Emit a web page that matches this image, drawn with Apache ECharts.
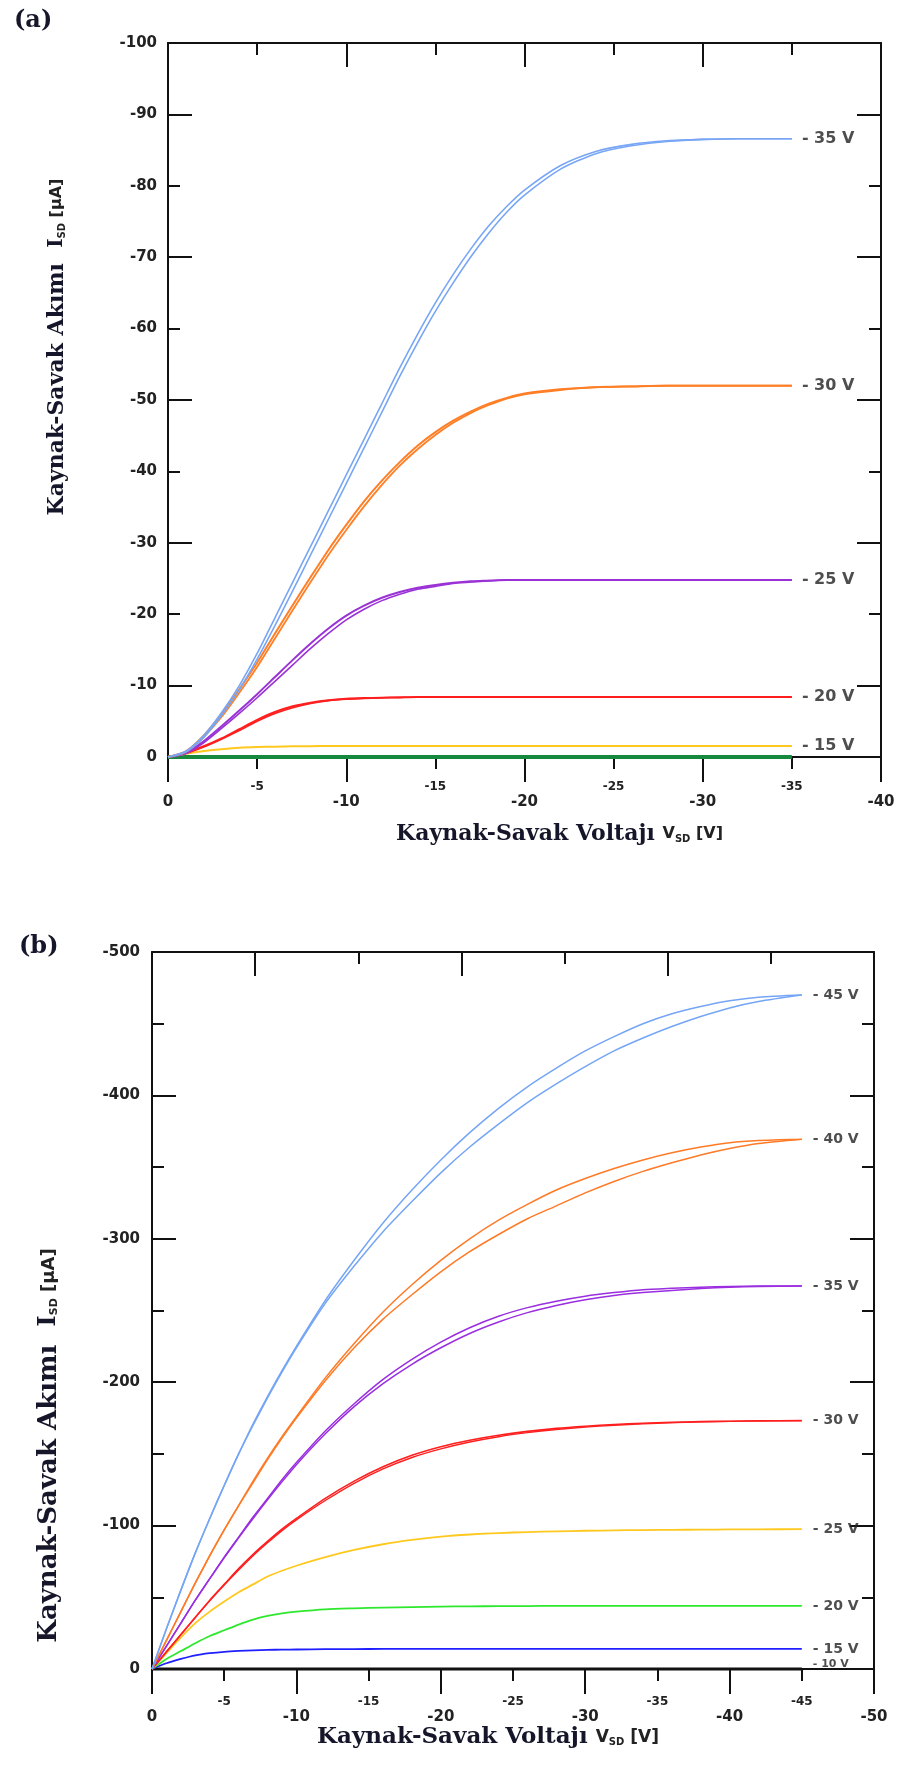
<!DOCTYPE html>
<html>
<head>
<meta charset="utf-8">
<script src="https://cdn.jsdelivr.net/npm/echarts@6/dist/echarts.min.js"></script>
<style>
  html, body { margin: 0; padding: 0; background: #ffffff; }
  #chart { width: 898px; height: 1766px; }
</style>
</head>
<body>
<div id="chart"></div>
<script>
// ---------- Panel (a): output curves, V_SD sweep 0 .. -35 V ----------
const vA = [0,-1,-2,-3,-4,-5,-6,-7,-8,-9,-10,-11,-12,-13,-14,-15,-16,-17,-18,-19,-20,-22,-24,-26,-28,-30,-32,-35];
const iA35f = [0,-0.8,-3,-6.2,-10,-14.5,-19.5,-24.5,-29.5,-34.5,-39.5,-44.5,-49.5,-54.5,-59.2,-63.6,-67.6,-71.2,-74.4,-77.1,-79.4,-82.8,-84.8,-85.8,-86.3,-86.5,-86.6,-86.6];
const iA35r = [0,-0.7,-2.7,-5.8,-9.4,-13.7,-18.4,-23.3,-28.3,-33.3,-38.3,-43.3,-48.3,-53.3,-58,-62.4,-66.4,-70.1,-73.4,-76.3,-78.7,-82.3,-84.5,-85.6,-86.2,-86.5,-86.6,-86.6];
const iA30f = [0,-0.8,-3,-6,-9.5,-13.2,-17.3,-21.3,-25.2,-29,-32.5,-35.8,-38.7,-41.3,-43.6,-45.5,-47.1,-48.4,-49.5,-50.3,-50.9,-51.5,-51.8,-51.9,-52,-52,-52,-52];
const iA30r = [0,-0.7,-2.8,-5.6,-9,-12.6,-16.6,-20.6,-24.5,-28.3,-31.8,-35.1,-38.1,-40.8,-43.1,-45.1,-46.8,-48.2,-49.3,-50.2,-50.8,-51.4,-51.8,-51.9,-52,-52,-52,-52];
const iA25f = [0,-0.6,-2.2,-4.3,-6.5,-8.8,-11.2,-13.6,-15.9,-18,-19.8,-21.2,-22.3,-23.1,-23.7,-24.1,-24.4,-24.6,-24.7,-24.8,-24.8,-24.8,-24.8,-24.8,-24.8,-24.8,-24.8,-24.8];
const iA25r = [0,-0.5,-2,-4,-6.1,-8.3,-10.6,-12.9,-15.2,-17.3,-19.2,-20.7,-21.9,-22.8,-23.5,-23.9,-24.3,-24.5,-24.7,-24.8,-24.8,-24.8,-24.8,-24.8,-24.8,-24.8,-24.8,-24.8];
const iA20f = [0,-0.6,-1.5,-2.6,-3.9,-5.2,-6.3,-7.1,-7.6,-7.95,-8.15,-8.25,-8.3,-8.35,-8.4,-8.4,-8.4,-8.4,-8.4,-8.4,-8.4,-8.4,-8.4,-8.4,-8.4,-8.4,-8.4,-8.4];
const iA20r = [0,-0.5,-1.4,-2.5,-3.7,-5,-6.1,-6.9,-7.5,-7.9,-8.1,-8.2,-8.3,-8.35,-8.4,-8.4,-8.4,-8.4,-8.4,-8.4,-8.4,-8.4,-8.4,-8.4,-8.4,-8.4,-8.4,-8.4];
const iA15 = [0,-0.45,-0.85,-1.1,-1.3,-1.4,-1.45,-1.5,-1.52,-1.54,-1.55,-1.55,-1.55,-1.55,-1.55,-1.55,-1.55,-1.55,-1.55,-1.55,-1.55,-1.55,-1.55,-1.55,-1.55,-1.55,-1.55,-1.55];
const iA10 = [0,0,0,0,0,0,0,0,0,0,0,0,0,0,0,0,0,0,0,0,0,0,0,0,0,0,0,0];

const xMajorA = [0,-10,-20,-30,-40];
const xMinorA = [-5,-15,-25,-35];
const yLabelsA = [0,-10,-20,-30,-40,-50,-60,-70,-80,-90,-100];
const yLongA = [-10,-30,-50,-70,-90];
const yShortA = [-20,-40,-60,-80];

// ---------- Panel (b): output curves, V_SD sweep 0 .. -45 V ----------
const vB = [0,-1,-2,-3,-4,-5,-6,-7,-8,-9,-10,-12,-14,-16,-18,-20,-22,-24,-26,-28,-30,-32,-34,-36,-38,-40,-42,-45];
const iB45f = [0,-28,-55,-81,-105,-128,-150,-171,-190,-208,-225,-257,-285,-311,-334,-355,-374,-391,-406,-419,-431,-441,-450,-457,-462,-466,-468.5,-470];
const iB45r = [0,-28,-55,-81,-105,-128,-150,-170,-189,-207,-224,-255,-281,-305,-326,-346,-364,-380,-395,-408,-420,-431,-440,-448,-455,-461,-465.5,-470];
const iB40f = [0,-20,-40,-60,-79,-97,-114,-131,-147,-162,-176,-203,-227,-249,-268,-285,-300,-313,-324,-334,-342,-349,-355,-360,-364,-367,-368.5,-369.5];
const iB40r = [0,-20,-40,-60,-79,-97,-114,-130,-146,-161,-175,-201,-224,-244,-261,-277,-291,-303,-314,-323,-332,-340,-347,-353,-358.5,-363,-366.5,-369.5];
const iB35f = [0,-16,-32,-48,-63,-78,-92,-106,-119,-132,-144,-166,-185,-202,-216,-228,-238,-246,-252,-256.5,-260,-262.5,-264.5,-265.5,-266.3,-266.8,-267,-267];
const iB35r = [0,-16,-32,-48,-63,-77.5,-91.5,-105,-118,-130.5,-142.5,-164,-183,-199,-212.5,-224,-234,-242,-248.5,-253.5,-257.5,-260.5,-262.5,-264,-265.3,-266.2,-266.7,-267];
const iB30f = [0,-12,-24,-36,-48,-59,-70,-80,-89,-97.5,-105,-119,-131,-141,-149,-155,-159.5,-163,-165.7,-167.8,-169.3,-170.5,-171.4,-172,-172.5,-172.8,-173,-173.2];
const iB30r = [0,-12,-24,-36,-47.5,-58.5,-69,-79,-88,-96.5,-104,-117.5,-129.5,-139.5,-147.5,-153.5,-158.3,-162,-164.8,-167,-168.7,-170,-171,-171.8,-172.3,-172.7,-173,-173.2];
const iB25 = [0,-11,-22,-32,-40,-47,-53.5,-59,-64.5,-68.5,-72,-78,-83,-87,-90,-92.3,-93.8,-94.8,-95.5,-96,-96.4,-96.7,-96.9,-97,-97.2,-97.3,-97.4,-97.5];
const iB20 = [0,-7,-12.5,-18,-23,-27,-31,-34.5,-37,-38.8,-40,-41.6,-42.3,-42.8,-43.2,-43.5,-43.7,-43.8,-43.9,-44,-44,-44,-44,-44,-44,-44,-44,-44];
const iB15 = [0,-4,-7,-9.5,-11,-12,-12.6,-13,-13.3,-13.5,-13.6,-13.8,-13.9,-14,-14,-14,-14,-14,-14,-14,-14,-14,-14,-14,-14,-14,-14,-14];
const iB10 = [0,0,0,0,0,0,0,0,0,0,0,0,0,0,0,0,0,0,0,0,0,0,0,0,0,0,0,0];

const xMajorB = [0,-10,-20,-30,-40,-50];
const xMinorB = [-5,-15,-25,-35,-45];
const yLabelsB = [0,-100,-200,-300,-400,-500];
const yLongB = [-100,-200,-300,-400];
const yShortB = [-50,-150,-250,-350,-450];
// the top frame of panel (b) carries a seven-step tick scale
const topLongB = [-5,-15,-25];
const topShortB = [-10,-20,-30];

const INK = '#111111';
const LABEL = '#222222';
const SANS = 'DejaVu Sans';
const SERIF = 'DejaVu Serif';

function pts(v, i) { return v.map((x, k) => [x, i[k]]); }

function curve(name, v, i, color, width, gi) {
  return {
    type: 'line', name: name, xAxisIndex: gi * 4, yAxisIndex: gi * 4,
    data: pts(v, i), showSymbol: false, symbol: 'none',
    smooth: 0.25, clip: false, z: 3,
    lineStyle: { color: color, width: width }, itemStyle: { color: color }
  };
}

function endLabels(gi, items, size, dist) {
  return {
    type: 'scatter', xAxisIndex: gi * 4, yAxisIndex: gi * 4,
    symbolSize: 0, z: 4, silent: true,
    data: items.map(it => ({ name: it[0], value: [it[1][it[1].length - 1], it[2][it[2].length - 1]],
      label: { fontSize: it[3] || size, offset: it[4] || [0, 0] } })),
    label: { show: true, position: 'right', distance: dist, formatter: '{b}',
      fontFamily: SANS, fontWeight: 'bold', fontSize: size, color: LABEL }
  };
}

function tickAxis(gi, pos, min, max, ticks, len, inside, showLine, labelOpt, extra) {
  const a = {
    gridIndex: gi, type: 'value', min: min, max: max, inverse: true, position: pos,
    axisLine: { show: showLine, onZero: false, lineStyle: { color: INK, width: 2 } },
    axisTick: { show: true, inside: inside, length: len, customValues: ticks, lineStyle: { color: INK, width: 2 } },
    axisLabel: labelOpt ? Object.assign({ show: true, fontFamily: SANS, fontWeight: 'bold', color: LABEL }, labelOpt) : { show: false },
    splitLine: { show: false }
  };
  return Object.assign(a, extra || {});
}

const xName = '{t|Kaynak-Savak Voltajı }{v|V}{s|SD}{u| [V]}';
const yName = '{t|Kaynak-Savak Akımı  }{i|I}{s|SD}{u| [µA]}';
function nameRich(serifSize, sansSize, subSize, subShift) {
  return {
    t: { fontFamily: SERIF, fontWeight: 'bold', fontSize: serifSize, color: '#16162a' },
    i: { fontFamily: SERIF, fontWeight: 'bold', fontSize: serifSize - 2, color: '#16162a' },
    v: { fontFamily: SANS, fontWeight: 'bold', fontSize: sansSize, color: LABEL },
    s: { fontFamily: SANS, fontWeight: 'bold', fontSize: subSize, color: LABEL, padding: [subShift, 0, 0, 0] },
    u: { fontFamily: SANS, fontWeight: 'bold', fontSize: sansSize, color: LABEL }
  };
}

const chart = echarts.init(document.getElementById('chart'), null, { renderer: 'canvas' });

const option = {
  animation: false,
  backgroundColor: '#ffffff',
  title: [
    { text: '(a)', left: 9, top: 4, textStyle: { fontFamily: SERIF, fontWeight: 'bold', fontSize: 24, color: '#16162a' } },
    { text: '(b)', left: 14, top: 930, textStyle: { fontFamily: SERIF, fontWeight: 'bold', fontSize: 24, color: '#16162a' } }
  ],
  grid: [
    { left: 168, top: 43, width: 713, height: 714 },
    { left: 152, top: 952, width: 722, height: 717 }
  ],
  xAxis: [
    // panel (a)
    tickAxis(0, 'bottom', -40, 0, xMajorA, 25, false, true,
      { customValues: xMajorA, fontSize: 15, margin: 38 },
      { name: xName, nameLocation: 'middle', nameGap: 66,
        nameTextStyle: { padding: [0, 0, 0, 70], rich: nameRich(22, 16, 10, 10) } }),
    tickAxis(0, 'bottom', -40, 0, xMinorA, 12, false, false,
      { customValues: xMinorA, fontSize: 12, margin: 24 }),
    tickAxis(0, 'top', -40, 0, xMinorA, 12, true, true, null),
    tickAxis(0, 'top', -40, 0, [-10, -20, -30], 24, true, false, null),
    // panel (b)
    tickAxis(1, 'bottom', -50, 0, xMajorB, 25, false, true,
      { customValues: xMajorB, fontSize: 15, margin: 41 },
      { name: xName, nameLocation: 'middle', nameGap: 52,
        nameTextStyle: { padding: [0, 50, 0, 0], rich: nameRich(23, 17, 10, 10) } }),
    tickAxis(1, 'bottom', -50, 0, xMinorB, 12, false, false,
      { customValues: xMinorB, fontSize: 12, margin: 27 }),
    tickAxis(1, 'top', -35, 0, topShortB, 12, true, true, null),
    tickAxis(1, 'top', -35, 0, topLongB, 24, true, false, null)
  ],
  yAxis: [
    // panel (a)
    tickAxis(0, 'left', -100, 0, yLongA, 24, true, true,
      { customValues: yLabelsA, fontSize: 15, margin: 11 },
      { name: yName, nameLocation: 'middle', nameGap: 100, nameRotate: 90,
        nameTextStyle: { padding: [0, 0, 0, 106], rich: nameRich(22, 16, 10, 10) } }),
    tickAxis(0, 'left', -100, 0, yShortA, 12, true, false, null),
    tickAxis(0, 'right', -100, 0, yLongA, 24, true, true, null),
    tickAxis(0, 'right', -100, 0, yShortA, 12, true, false, null),
    // panel (b)
    tickAxis(1, 'left', -500, 0, yLongB, 24, true, true,
      { customValues: yLabelsB, fontSize: 15, margin: 12 },
      { name: yName, nameLocation: 'middle', nameGap: 90, nameRotate: 90,
        nameTextStyle: { padding: [0, 270, 0, 0], rich: nameRich(26, 18, 11, 11) } }),
    tickAxis(1, 'left', -500, 0, yShortB, 12, true, false, null),
    tickAxis(1, 'right', -500, 0, yLongB, 24, true, true, null),
    tickAxis(1, 'right', -500, 0, yShortB, 12, true, false, null)
  ],
  series: [
    // panel (a)
    curve('-10 V', vA, iA10, '#16893f', 4, 0),
    curve('-15 V', vA, iA15, '#ffc81e', 2, 0),
    curve('-20 V', vA, iA20f, '#ff1f1f', 2, 0),
    curve('-20 V', vA, iA20r, '#ff1f1f', 1.6, 0),
    curve('-25 V', vA, iA25f, '#9a32d6', 2, 0),
    curve('-25 V', vA, iA25r, '#9a32d6', 1.6, 0),
    curve('-30 V', vA, iA30f, '#ff7f27', 2, 0),
    curve('-30 V', vA, iA30r, '#ff7f27', 1.8, 0),
    curve('-35 V', vA, iA35f, '#78a6f5', 1.6, 0),
    curve('-35 V', vA, iA35r, '#78a6f5', 1.6, 0),
    endLabels(0, [
      ['- 35 V', vA, iA35f], ['- 30 V', vA, iA30f], ['- 25 V', vA, iA25f],
      ['- 20 V', vA, iA20f], ['- 15 V', vA, iA15]
    ], 16, 10),
    // panel (b)
    curve('-10 V', vB, iB10, '#111111', 3, 1),
    curve('-15 V', vB, iB15, '#1f1fff', 1.8, 1),
    curve('-20 V', vB, iB20, '#2ee82e', 1.8, 1),
    curve('-25 V', vB, iB25, '#ffc81e', 1.8, 1),
    curve('-30 V', vB, iB30f, '#ff1f1f', 1.6, 1),
    curve('-30 V', vB, iB30r, '#ff1f1f', 1.4, 1),
    curve('-35 V', vB, iB35f, '#9a2ee0', 1.5, 1),
    curve('-35 V', vB, iB35r, '#9a2ee0', 1.5, 1),
    curve('-40 V', vB, iB40f, '#ff7a26', 1.5, 1),
    curve('-40 V', vB, iB40r, '#ff7a26', 1.5, 1),
    curve('-45 V', vB, iB45f, '#75a5f5', 1.5, 1),
    curve('-45 V', vB, iB45r, '#75a5f5', 1.5, 1),
    endLabels(1, [
      ['- 45 V', vB, iB45f], ['- 40 V', vB, iB40f], ['- 35 V', vB, iB35f],
      ['- 30 V', vB, iB30f], ['- 25 V', vB, iB25], ['- 20 V', vB, iB20],
      ['- 15 V', vB, iB15], ['- 10 V', vB, iB10, 11, [0, -5]]
    ], 14, 11)
  ]
};

chart.setOption(option);
</script>
</body>
</html>
